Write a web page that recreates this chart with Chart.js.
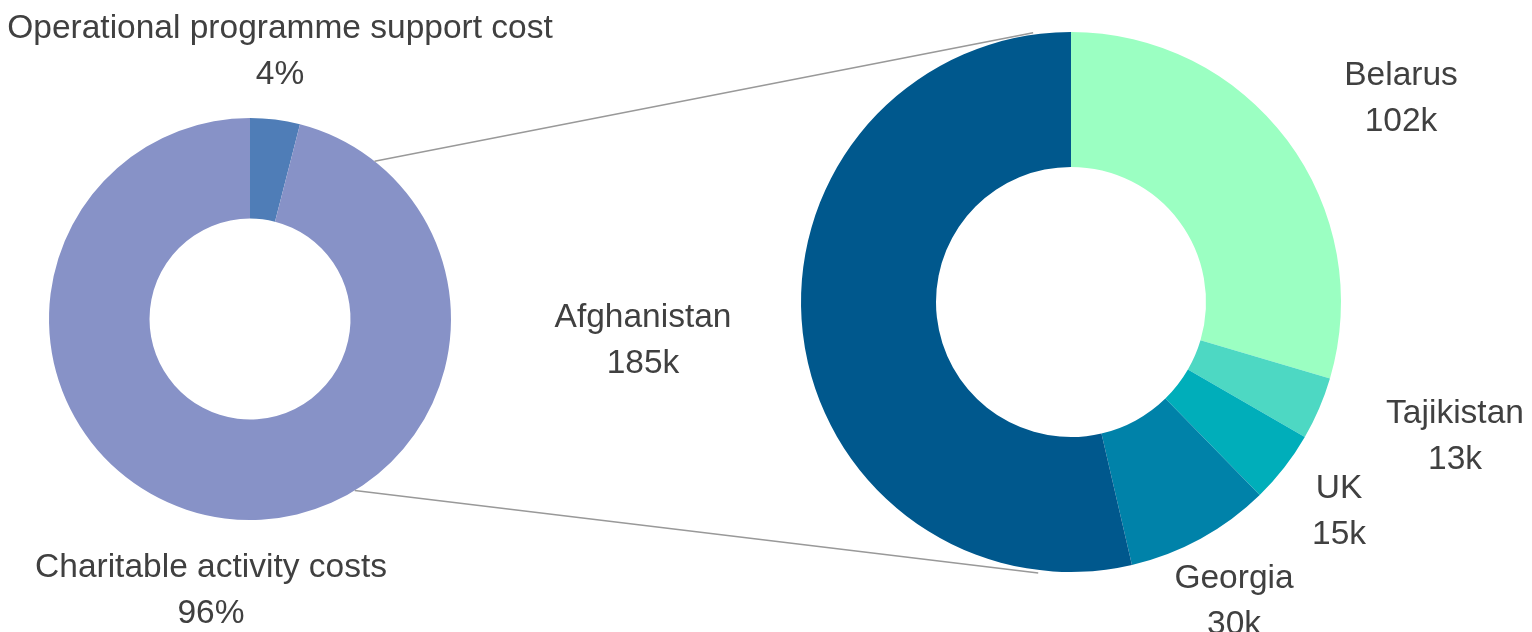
<!DOCTYPE html>
<html>
<head>
<meta charset="utf-8">
<script src="https://cdn.jsdelivr.net/npm/chart.js@4.4.1/dist/chart.umd.min.js"></script>
<style>
    html, body { margin: 0; padding: 0; background: #fff; overflow: hidden; }
    .wrap { position: absolute; left: 0; top: 0; width: 1532px; height: 632px; }
</style>
</head>
<body>
<div class="wrap"><canvas id="costChart"></canvas></div>
<div class="wrap"><canvas id="countryChart"></canvas></div>
<script>
    "use strict";

    // Cost split (percent)
    var costLabels = ["Operational programme support cost", "Charitable activity costs"];
    var costValues = [4, 96];
    var costColors = ["#4f7db7", "#8792c7"];

    // Charitable activity by country (thousands)
    var countryLabels = ["Belarus", "Tajikistan", "UK", "Georgia", "Afghanistan"];
    var countryValues = [102, 13, 15, 30, 185];
    var countryColors = ["#9bffc2", "#4dd8c3", "#00aeba", "#0082a9", "#00588d"];

    var textColor = "#404040";
    var font = "33.5px 'Liberation Sans', Arial, sans-serif";
    var lineGap = 46;

    // Label centres (first line), same order as the data
    var costLabelPos = [[280, 29], [211, 568]];
    var countryLabelPos = [[1401, 76], [1455, 414], [1339, 489], [1234, 579], [643, 318]];

    // Two-line labels: name, then value
    var labelPlugin = function (names, values, suffix, pos) {
        return {
            id: "labels",
            afterDraw: function (chart) {
                var ctx = chart.ctx;
                ctx.save();
                ctx.font = font;
                ctx.fillStyle = textColor;
                ctx.textAlign = "center";
                ctx.textBaseline = "middle";
                names.forEach(function (name, i) {
                    ctx.fillText(name, pos[i][0], pos[i][1]);
                    ctx.fillText(values[i] + suffix, pos[i][0], pos[i][1] + lineGap);
                });
                ctx.restore();
            }
        };
    };

    var baseOptions = function (padding) {
        return {
            responsive: true,
            maintainAspectRatio: false,
            animation: false,
            events: [],
            cutout: "50%",
            layout: { padding: padding },
            plugins: { legend: { display: false }, tooltip: { enabled: false } }
        };
    };

    var costChart = new Chart(document.getElementById("costChart"), {
        type: "doughnut",
        data: {
            labels: costLabels,
            datasets: [{ data: costValues, backgroundColor: costColors, borderWidth: 0 }]
        },
        options: baseOptions({ left: 49, right: 1081, top: 118, bottom: 112 }),
        plugins: [labelPlugin(costLabels, costValues, "%", costLabelPos)]
    });

    // Point on a ring edge, angle in degrees clockwise from the top
    var edgePoint = function (arc, deg, extra) {
        var a = (deg - 90) * Math.PI / 180;
        var r = arc.outerRadius + (extra || 0);
        return [arc.x + r * Math.cos(a), arc.y + r * Math.sin(a)];
    };

    // Connector lines between the two rings
    var connectorPlugin = {
        id: "connectors",
        afterDraw: function (chart) {
            var left = costChart.getDatasetMeta(0).data[0];
            var right = chart.getDatasetMeta(0).data[0];
            var pairs = [
                [edgePoint(left, 38.3, 0), edgePoint(right, -8, 2)],
                [edgePoint(left, 148.6, 0), edgePoint(right, 186.9, 3)]
            ];
            var ctx = chart.ctx;
            ctx.save();
            ctx.strokeStyle = "#999999";
            ctx.lineWidth = 1.5;
            pairs.forEach(function (p) {
                ctx.beginPath();
                ctx.moveTo(p[0][0], p[0][1]);
                ctx.lineTo(p[1][0], p[1][1]);
                ctx.stroke();
            });
            ctx.restore();
        }
    };

    var countryChart = new Chart(document.getElementById("countryChart"), {
        type: "doughnut",
        data: {
            labels: countryLabels,
            datasets: [{ data: countryValues, backgroundColor: countryColors, borderWidth: 0 }]
        },
        options: baseOptions({ left: 801, right: 191, top: 32, bottom: 60 }),
        plugins: [labelPlugin(countryLabels, countryValues, "k", countryLabelPos), connectorPlugin]
    });
</script>
</body>
</html>
